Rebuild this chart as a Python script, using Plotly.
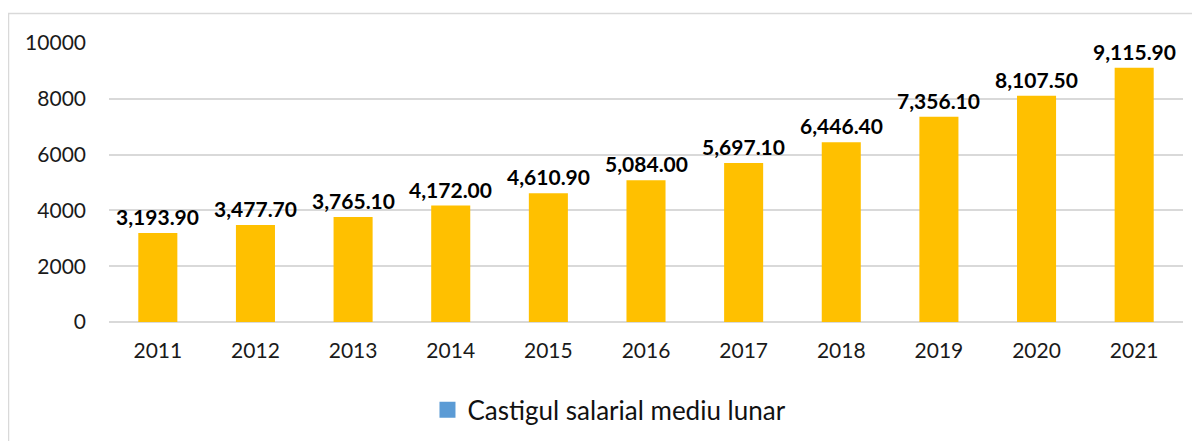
import plotly.graph_objects as go

years = ["2011", "2012", "2013", "2014", "2015", "2016", "2017", "2018", "2019", "2020", "2021"]
salary = [3193.90, 3477.70, 3765.10, 4172.00, 4610.90, 5084.00, 5697.10, 6446.40, 7356.10, 8107.50, 9115.90]
series_name = "Castigul salarial mediu lunar"
y_ticks = [0, 2000, 4000, 6000, 8000, 10000]
y_tick_text = ["0", "2000", "4000", "6000", "8000", "10000"]

FONT = "Lato"

fig = go.Figure()
fig.add_trace(go.Bar(
    x=years, y=salary, name=series_name, showlegend=False,
    marker=dict(color="#FFC000", line=dict(width=0)),
))
# legend entry (Excel legend swatch is blue)
fig.add_trace(go.Scatter(
    x=[years[0]], y=[None], name=series_name, showlegend=True, mode="markers",
    marker=dict(color="#5B9BD5", symbol="square", size=16, line=dict(width=0)),
))

annotations = [
    dict(x=i, y=val, xref="x", yref="y", text=f"{val:,.2f}", showarrow=False,
         yanchor="bottom", yshift=2,
         font=dict(family=FONT, size=21, color="#000000", weight="bold"))
    for i, val in enumerate(salary)
]

fig.update_layout(
    width=1200, height=441,
    margin=dict(l=101, r=25, t=35, b=127, autoexpand=False),
    paper_bgcolor="white", plot_bgcolor="white",
    barmode="overlay", bargap=0.6,
    font=dict(family=FONT, size=20, color="#1a1a1a"),
    showlegend=True,
    annotations=annotations,
    legend=dict(orientation="h", x=0.466, xanchor="center", y=-0.315, yanchor="middle",
                font=dict(family=FONT, size=26, color="#111111"), itemsizing="trace",
                itemwidth=30),
    xaxis=dict(type="category", categoryorder="array", categoryarray=years,
               range=[-0.5, len(years) - 0.5],
               showgrid=False, showline=False, ticks="", ticklabelstandoff=14,
               automargin=False, tickfont=dict(family=FONT, size=21, color="#1a1a1a")),
    yaxis=dict(range=[0, 10000], tickvals=y_ticks, ticktext=y_tick_text, showgrid=True,
               gridcolor="#D9D9D9", automargin=False,
               gridwidth=1.5, zeroline=True, zerolinecolor="#D9D9D9", zerolinewidth=1.5,
               showline=False, ticks="", ticklabelstandoff=22,
               tickfont=dict(family=FONT, size=21, color="#1a1a1a")),
    shapes=[dict(type="rect", xref="paper", yref="paper",
                 x0=(8.5 - 109) / 1074, x1=1.2, y0=-0.6, y1=(322 - 13.5) / 279,
                 line=dict(color="#D9D9D9", width=1.5), fillcolor="rgba(0,0,0,0)", layer="below")],
)

fig.write_html("out.html")
